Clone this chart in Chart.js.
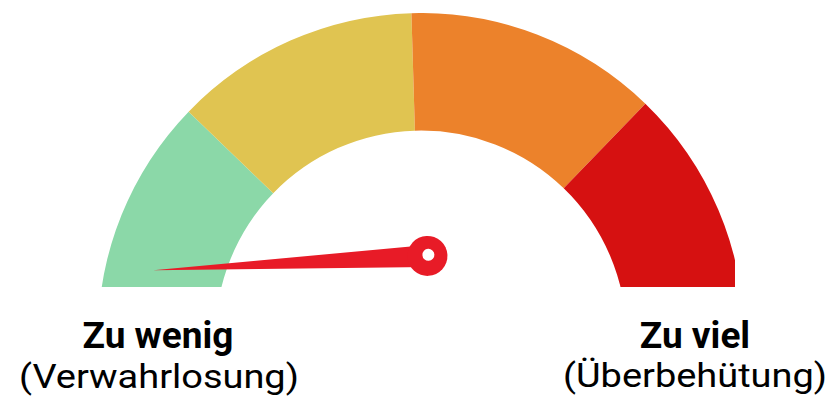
<!DOCTYPE html>
<html lang="de">
<head>
    <meta charset="UTF-8">
    <title>Gauge</title>
    <style>
        body {
            margin: 0;
            background: #ffffff;
            font-family: Roboto, Arial, sans-serif;
        }
        /* the gauge is cut off at the bottom and on the right, like in the original */
        #clip {
            position: absolute;
            left: 0;
            top: 0;
            width: 735px;
            height: 287px;
            overflow: hidden;
        }
        #gauge-box {
            position: absolute;
            left: 98px;
            top: 13px;
            width: 646px;
            height: 323px;
        }
        .label {
            position: absolute;
            width: 320px;
            text-align: center;
            color: #000;
            line-height: 1;
            white-space: nowrap;
        }
        .label.main {
            font-weight: bold;
            font-size: 37px;
        }
        /* the sub lines are a bit wider than plain Roboto */
        .label.sub {
            font-size: 33px;
            transform: scaleX(1.15);
            transform-origin: center;
        }
    </style>
</head>
<body>
    <div id="clip">
        <div id="gauge-box">
            <canvas id="gaugeChart"></canvas>
        </div>
    </div>

    <div class="label main" style="left: -2px; top: 317px;">Zu wenig</div>
    <div class="label sub" style="left: -1px; top: 360px;">(Verwahrlosung)</div>
    <div class="label main" style="left: 535px; top: 317px;">Zu viel</div>
    <div class="label sub" style="left: 535px; top: 359px;">(Überbehütung)</div>

    <script src="https://cdn.jsdelivr.net/npm/chart.js"></script>
    <script>
        // gauge zones (sum = 180, half circle)
        const zones = ['Zu wenig', 'Eher wenig', 'Eher viel', 'Zu viel'];
        const zoneSizes = [44, 44.3, 45.7, 46];
        const zoneColors = ['#8bd8a8', '#e0c451', '#ec822b', '#d61111'];

        // needle position in the same units (0 = left end, 180 = right end)
        const needleValue = -3;

        /**
         * Draws the needle on top of the doughnut.
         * The pivot sits a bit above the centre of the arc, as in the original.
         */
        const needlePlugin = {
            id: 'needle',
            afterDatasetsDraw(chart, args, opts) {
                const arc = chart.getDatasetMeta(0).data[0];
                if (!arc) return;
                const { x, y, outerRadius } = arc.getProps(['x', 'y', 'outerRadius'], true);
                const total = zoneSizes.reduce((a, b) => a + b, 0);
                const angle = Math.PI + (opts.value / total) * Math.PI;

                const px = x + opts.pivotX * outerRadius;
                const py = y + opts.pivotY * outerRadius;
                const len = opts.length * outerRadius;

                const ctx = chart.ctx;
                ctx.save();
                ctx.translate(px, py);
                ctx.rotate(angle);
                ctx.fillStyle = opts.color;

                // long thin triangle
                ctx.beginPath();
                ctx.moveTo(0, -opts.baseWidth / 2);
                ctx.lineTo(len, 0);
                ctx.lineTo(0, opts.baseWidth / 2);
                ctx.closePath();
                ctx.fill();

                // hub
                ctx.beginPath();
                ctx.arc(0, 0, opts.hubRadius, 0, Math.PI * 2);
                ctx.fill();

                // hole in the hub
                ctx.fillStyle = '#ffffff';
                ctx.beginPath();
                ctx.arc(-1, 1, opts.holeRadius, 0, Math.PI * 2);
                ctx.fill();
                ctx.restore();
            }
        };

        const ctx = document.getElementById('gaugeChart').getContext('2d');
        const gaugeChart = new Chart(ctx, {
            type: 'doughnut',
            data: {
                labels: zones,
                datasets: [{
                    data: zoneSizes,
                    backgroundColor: zoneColors,
                    borderWidth: 0
                }]
            },
            options: {
                responsive: true,
                maintainAspectRatio: false,
                animation: false,
                rotation: -90,
                circumference: 180,
                cutout: '63.6%',
                layout: { padding: 0 },
                plugins: {
                    legend: { display: false },
                    tooltip: { enabled: false },
                    needle: {
                        value: needleValue,
                        pivotX: 0.02,
                        pivotY: -0.248,
                        length: 0.85,
                        baseWidth: 22,
                        hubRadius: 20,
                        holeRadius: 6,
                        color: '#e81b27'
                    }
                }
            },
            plugins: [needlePlugin]
        });
    </script>
</body>
</html>
